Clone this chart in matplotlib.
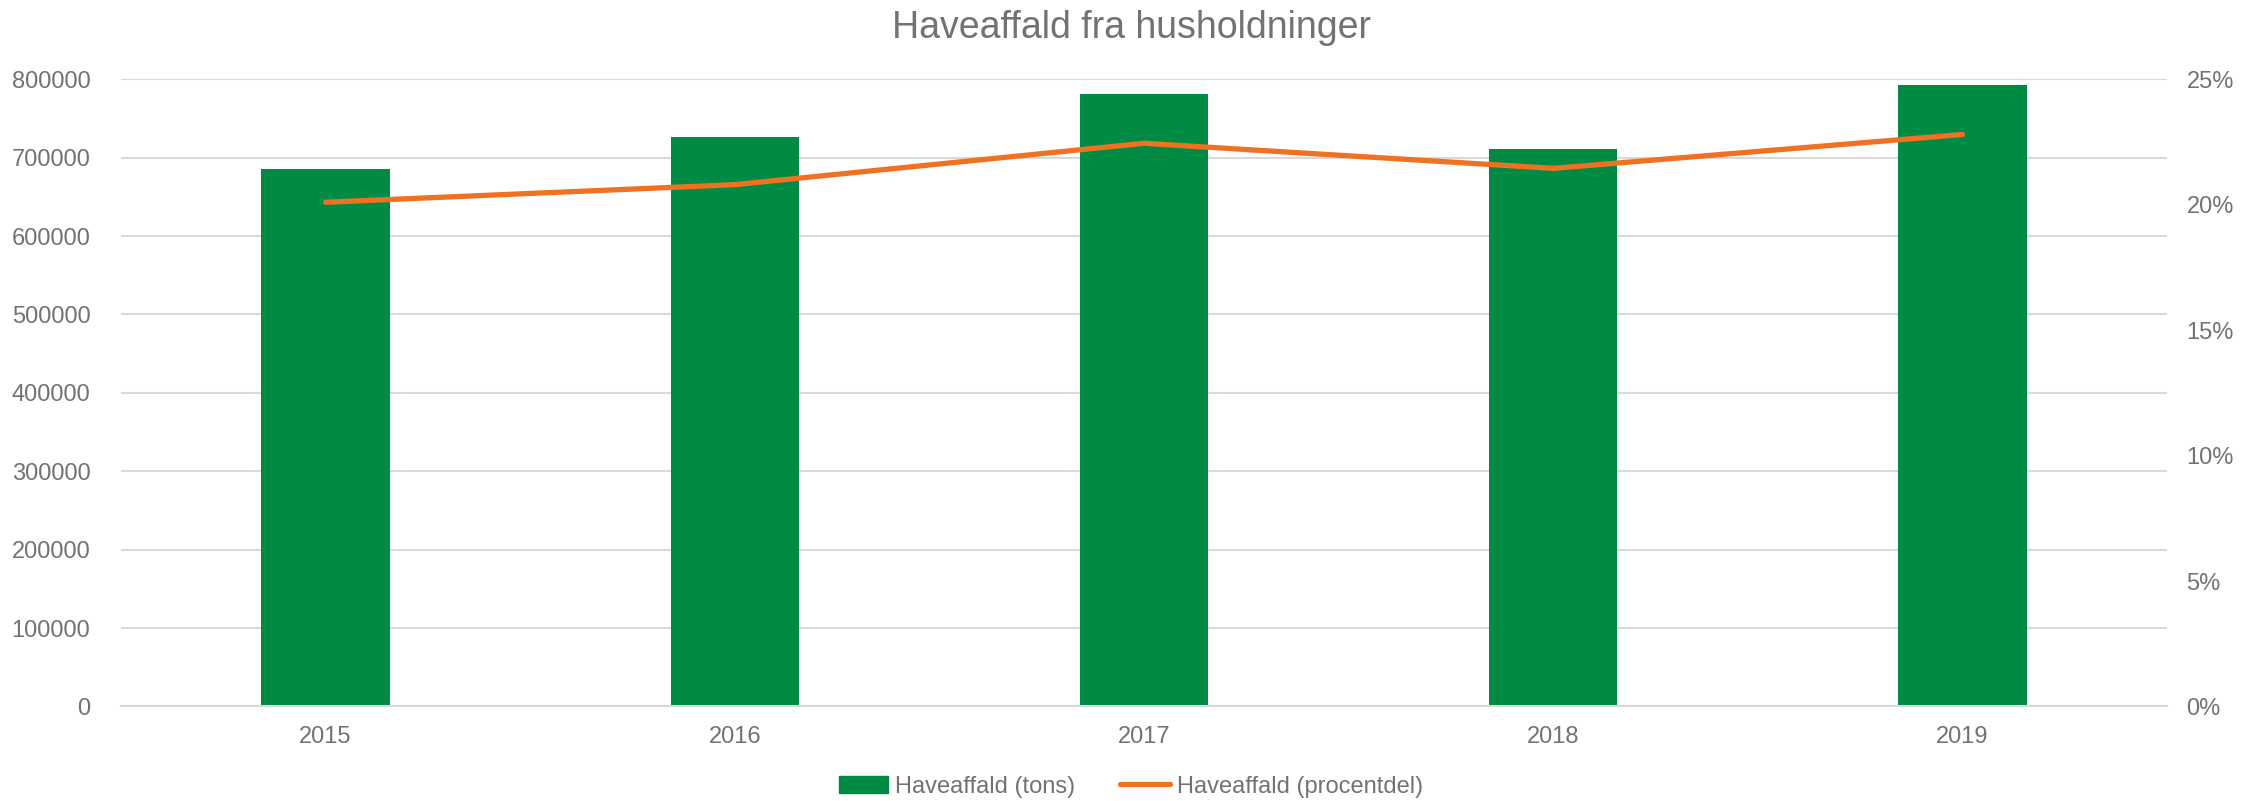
import matplotlib
matplotlib.use("Agg")
import matplotlib.pyplot as plt
from matplotlib.ticker import FuncFormatter, MultipleLocator
from matplotlib.lines import Line2D
from matplotlib.patches import Patch

years = ["2015", "2016", "2017", "2018", "2019"]
tons = [686000, 727000, 781000, 711000, 793000]
share_pct = [20.1, 20.8, 22.45, 21.45, 22.8]

GREEN = "#008b45"
ORANGE = "#f07122"
TXT = "#767171"
GRID = "#d9d9d9"

plt.rcParams["font.family"] = ["Liberation Sans", "DejaVu Sans"]

fig = plt.figure(figsize=(22.62, 8.01), dpi=100)
ax = fig.add_axes([0.0535, 0.118, 0.9045, 0.783])
x = list(range(len(years)))

ax.bar(x, tons, width=0.314, color=GREEN, zorder=2)
ax.set_ylim(0, 800000)
ax.set_xlim(-0.5, len(years) - 0.5)
ax.yaxis.set_major_locator(MultipleLocator(100000))
ax.set_xticks(x)
ax.set_xticklabels(years)
ax.grid(axis="y", color=GRID, linewidth=1.5, zorder=0)
for s in ["top", "left", "right"]:
    ax.spines[s].set_visible(False)
ax.spines["bottom"].set_color(GRID)
ax.spines["bottom"].set_linewidth(1.5)
ax.tick_params(length=0, labelsize=17, colors=TXT)
ax.tick_params(axis="y", pad=22)
ax.tick_params(axis="x", pad=14)

ax2 = ax.twinx()
ax2.plot(x, share_pct, color=ORANGE, linewidth=3.8, solid_capstyle="round", zorder=3)
ax2.set_ylim(0, 25)
ax2.yaxis.set_major_locator(MultipleLocator(5))
ax2.yaxis.set_major_formatter(FuncFormatter(lambda v, p: f"{v:.0f}%"))
for s in ax2.spines.values():
    s.set_visible(False)
ax2.tick_params(length=0, labelsize=17, colors=TXT, pad=14)

fig.text(0.5, 0.965, "Haveaffald fra husholdninger", ha="center", va="center",
         fontsize=27, color=TXT)

handles = [Patch(color=GREEN, label="Haveaffald (tons)"),
           Line2D([0], [0], color=ORANGE, linewidth=3.8, solid_capstyle="round",
                  label="Haveaffald (procentdel)")]
fig.legend(handles=handles, loc="center", bbox_to_anchor=(0.5, 0.018), ncol=2,
           frameon=False, fontsize=17, labelcolor=TXT, handlelength=2.1,
           handletextpad=0.3, columnspacing=1.9)

fig.savefig("out.png", dpi=100)
